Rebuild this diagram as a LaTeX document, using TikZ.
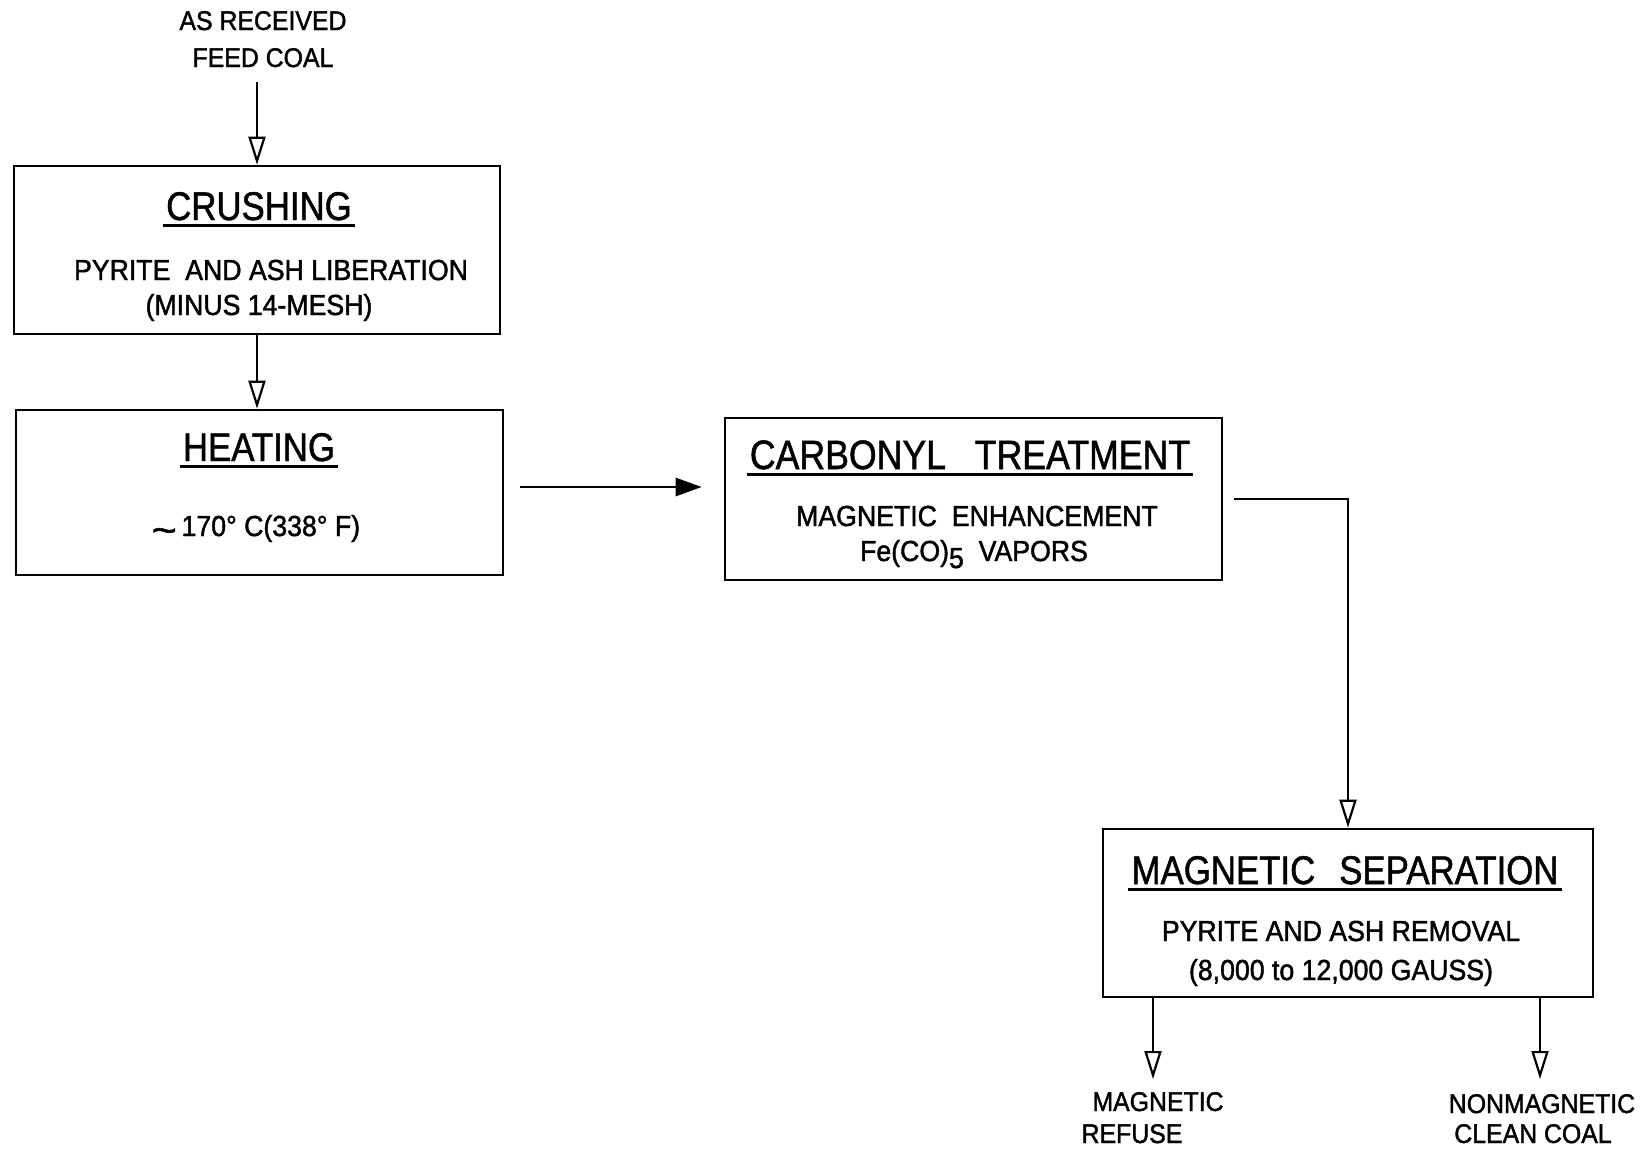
\documentclass[tikz,border=0pt]{standalone}
\usepackage{fontspec}
\setmainfont{Liberation Sans}
\newfontfamily\titlefont[FakeStretch=0.87,FakeBold=1.2]{Liberation Sans}
\newfontfamily\bodyfont[FakeStretch=0.92,FakeBold=1.5]{Liberation Sans}
\usetikzlibrary{arrows.meta}
\begin{document}
\begin{tikzpicture}[x=1pt,y=-1pt,
 box/.style={draw, line width=2.6pt, inner sep=0pt},
 ttl/.style={anchor=base, inner xsep=3pt, inner ysep=0pt, font=\titlefont\fontsize{40}{48}\selectfont},
 txt/.style={anchor=base, inner sep=0pt, font=\bodyfont\fontsize{29}{35}\selectfont},
 lbl/.style={anchor=base, inner sep=0pt, font=\bodyfont\fontsize{27}{33}\selectfont},
 uline/.style={line width=3pt},
 conn/.style={line width=2.8pt, -{Triangle[open, length=28pt, width=17pt, line width=2.2pt]}},
 connf/.style={line width=2.8pt, -{Triangle[length=26pt, width=18pt]}}]
\useasboundingbox[fill=white] (0,0) rectangle (1650,1149);

% boxes
\node[box, minimum width=486pt, minimum height=168pt] (crush) at (257,250) {};
\node[box, minimum width=487pt, minimum height=165pt] (heat) at (259.5,492.5) {};
\node[box, minimum width=497pt, minimum height=162pt] (carb) at (973.5,499) {};
\node[box, minimum width=490pt, minimum height=168pt] (msep) at (1348,913) {};

% texts
\node[lbl] (feedA) at (263,30) {AS RECEIVED};
\node[lbl] (feedB) at (263,67) {FEED COAL};
\node[ttl] (crushT) at (259,220) {CRUSHING};
\node[txt] (crushA) at (271,280) {PYRITE\ \ AND ASH LIBERATION};
\node[txt] (crushB) at (259,315) {(MINUS 14-MESH)};
\node[ttl] (heatT) at (259,461) {HEATING};
\node[txt] (heatA) at (256,536) {\raisebox{-7pt}{\scalebox{1.6}[1.3]{\textasciitilde}}\,170° C(338° F)};
\node[ttl, font=\titlefont\fontsize{41}{48}\selectfont] (carbT) at (970,469) {CARBONYL\hspace{0.7em}TREATMENT};
\node[txt] (carbA) at (977,526) {MAGNETIC\ \ ENHANCEMENT};
\node[txt] (carbB) at (974,561) {Fe(CO)\raisebox{-7pt}{5}\ \ VAPORS};
\node[ttl] (msepT) at (1345,884) {MAGNETIC\hspace{0.6em}SEPARATION};
\node[txt] (msepA) at (1341,941) {PYRITE AND ASH REMOVAL};
\node[txt] (msepB) at (1341,980) {(8,000 to 12,000 GAUSS)};
\node[lbl] (refA) at (1158,1111) {MAGNETIC};
\node[lbl] (refB) at (1132,1143) {REFUSE};
\node[lbl] (cleanA) at (1542,1113) {NONMAGNETIC};
\node[lbl] (cleanB) at (1533,1143) {CLEAN COAL};

% underlines
\foreach \t in {crushT,heatT,carbT,msepT}
  \draw[uline] ([yshift=-5pt]\t.south west) -- ([yshift=-5pt]\t.south east);

% connectors
\coordinate (fs) at (crush.north |- feedB.south);
\draw[conn] ([yshift=-15pt]fs) -- (crush.north);
\draw[conn] (crush.south) -- (crush.south |- heat.north);
\coordinate (h1) at ([xshift=16pt,yshift=5.5pt]heat.east);
\coordinate (h2) at (h1 -| carb.west);
\draw[connf] (h1) -- ([xshift=-22pt]h2);
\draw[conn] ([xshift=11pt]carb.east) -| (msep.north);
\coordinate (o1) at (1153,1079);
\coordinate (o2) at (1540,1079);
\draw[conn] (msep.south -| o1) -- (o1);
\draw[conn] (msep.south -| o2) -- (o2);
\end{tikzpicture}
\end{document}
